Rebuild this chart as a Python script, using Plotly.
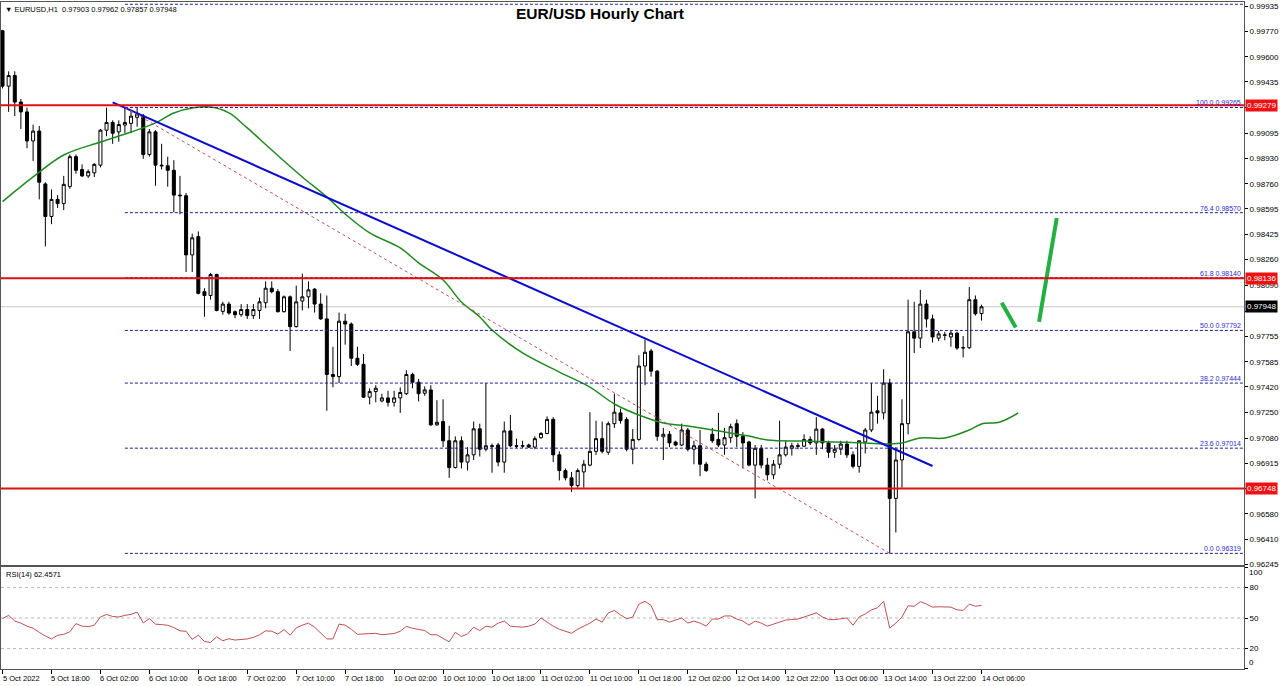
import plotly.graph_objects as go

# ---------------- data ----------------
tick_labels = ["5 Oct 2022", "5 Oct 18:00", "6 Oct 02:00", "6 Oct 10:00", "6 Oct 18:00",
               "7 Oct 02:00", "7 Oct 10:00", "7 Oct 18:00", "10 Oct 02:00", "10 Oct 10:00",
               "10 Oct 18:00", "11 Oct 02:00", "11 Oct 10:00", "11 Oct 18:00", "12 Oct 02:00",
               "12 Oct 14:00", "12 Oct 22:00", "13 Oct 06:00", "13 Oct 14:00", "13 Oct 22:00",
               "14 Oct 06:00"]
tick_bars = [0, 8, 16, 24, 32, 40, 48, 56, 64, 72, 80, 88, 96, 104, 112, 120, 128, 136, 144, 152, 160]

opens = [0.99772, 0.99406, 0.99476, 0.99301, 0.99236, 0.99044, 0.99109, 0.98760, 0.98545, 0.98658,
         0.98630, 0.98742, 0.98940, 0.98855, 0.98813, 0.98833, 0.98884, 0.99115, 0.99166, 0.99104,
         0.99149, 0.99160, 0.99200, 0.99208, 0.98954, 0.99104, 0.98884, 0.98880, 0.98850, 0.98686,
         0.98682, 0.98291, 0.98412, 0.98048, 0.98023, 0.98161, 0.97918, 0.97966, 0.97916, 0.97896,
         0.97930, 0.97890, 0.97924, 0.97975, 0.98071, 0.98048, 0.97916, 0.98014, 0.97817, 0.97986,
         0.98014, 0.98065, 0.97966, 0.97868, 0.97501, 0.97487, 0.97853, 0.97834, 0.97608, 0.97568,
         0.97351, 0.97388, 0.97326, 0.97346, 0.97317, 0.97346, 0.97374, 0.97501, 0.97450, 0.97377,
         0.97399, 0.97168, 0.97190, 0.97063, 0.96886, 0.97063, 0.96922, 0.96970, 0.97142, 0.97007,
         0.97030, 0.97035, 0.96922, 0.97128, 0.97030, 0.97027, 0.97035, 0.97021, 0.97083, 0.97111,
         0.97204, 0.96970, 0.96866, 0.96818, 0.96767, 0.96857, 0.96902, 0.96993, 0.97077, 0.96987,
         0.97176, 0.97247, 0.97204, 0.97007, 0.97072, 0.97557, 0.97656, 0.97523, 0.97089, 0.97106,
         0.97055, 0.97035, 0.97134, 0.97007, 0.97030, 0.96908, 0.97106, 0.97072, 0.97035, 0.97083,
         0.97176, 0.97092, 0.97055, 0.96902, 0.97013, 0.96902, 0.96838, 0.96908, 0.96970, 0.97013,
         0.97030, 0.97027, 0.97072, 0.97049, 0.97140, 0.97049, 0.96987, 0.97007, 0.97041, 0.96970,
         0.96894, 0.97055, 0.97134, 0.97261, 0.97247, 0.97444, 0.96682, 0.96936, 0.97176, 0.97783,
         0.97741, 0.97966, 0.97868, 0.97741, 0.97760, 0.97749, 0.97774, 0.97676, 0.97678, 0.97995,
         0.97903]
highs = [0.99778, 0.99504, 0.99504, 0.99321, 0.99264, 0.99152, 0.99143, 0.98771, 0.98723, 0.98686,
         0.98813, 0.98954, 0.98954, 0.98889, 0.98855, 0.98898, 0.99123, 0.99264, 0.99180, 0.99180,
         0.99265, 0.99250, 0.99264, 0.99222, 0.99123, 0.99115, 0.99025, 0.98940, 0.98917, 0.98813,
         0.98700, 0.98432, 0.98446, 0.98071, 0.98172, 0.98167, 0.97981, 0.97981, 0.97924, 0.97966,
         0.97966, 0.97966, 0.98009, 0.98116, 0.98116, 0.98065, 0.98023, 0.98023, 0.98088, 0.98167,
         0.98116, 0.98071, 0.98037, 0.98023, 0.97684, 0.97910, 0.97902, 0.97845, 0.97684, 0.97636,
         0.97410, 0.97430, 0.97374, 0.97393, 0.97393, 0.97416, 0.97529, 0.97512, 0.97472, 0.97422,
         0.97430, 0.97331, 0.97337, 0.97162, 0.97092, 0.97092, 0.97021, 0.97190, 0.97176, 0.97444,
         0.97044, 0.97049, 0.97190, 0.97233, 0.97077, 0.97063, 0.97044, 0.97092, 0.97120, 0.97224,
         0.97219, 0.96993, 0.96880, 0.96857, 0.96880, 0.96936, 0.97252, 0.97196, 0.97190, 0.97190,
         0.97374, 0.97275, 0.97219, 0.97140, 0.97628, 0.97732, 0.97670, 0.97529, 0.97148, 0.97128,
         0.97063, 0.97176, 0.97148, 0.97063, 0.97134, 0.96922, 0.97148, 0.97247, 0.97148, 0.97176,
         0.97204, 0.97120, 0.97063, 0.97035, 0.97035, 0.96950, 0.96936, 0.97196, 0.97063, 0.97049,
         0.97049, 0.97106, 0.97092, 0.97219, 0.97148, 0.97063, 0.97035, 0.97063, 0.97063, 0.96993,
         0.97063, 0.97148, 0.97444, 0.97360, 0.97535, 0.97472, 0.97021, 0.97337, 0.97995, 0.97981,
         0.98060, 0.97995, 0.97896, 0.97789, 0.97783, 0.97789, 0.97783, 0.97755, 0.98079, 0.98023,
         0.97962]
lows = [0.99391, 0.99236, 0.99208, 0.99123, 0.98996, 0.98912, 0.98658, 0.98347, 0.98494, 0.98601,
        0.98587, 0.98728, 0.98827, 0.98805, 0.98799, 0.98805, 0.98869, 0.99075, 0.99025, 0.99039,
        0.99095, 0.99095, 0.99138, 0.98926, 0.98940, 0.98748, 0.98855, 0.98742, 0.98573, 0.98559,
        0.98178, 0.98178, 0.98030, 0.97882, 0.97995, 0.97918, 0.97896, 0.97896, 0.97873, 0.97882,
        0.97868, 0.97868, 0.97868, 0.97938, 0.98037, 0.97910, 0.97910, 0.97656, 0.97811, 0.97924,
        0.97938, 0.97910, 0.97862, 0.97261, 0.97416, 0.97444, 0.97698, 0.97557, 0.97557, 0.97346,
        0.97303, 0.97317, 0.97317, 0.97289, 0.97289, 0.97247, 0.97365, 0.97410, 0.97323, 0.97360,
        0.97162, 0.97162, 0.97021, 0.96818, 0.96880, 0.96880, 0.96866, 0.96936, 0.96959, 0.96993,
        0.96852, 0.96894, 0.96852, 0.97021, 0.97015, 0.97015, 0.97015, 0.97007, 0.97077, 0.97106,
        0.96922, 0.96801, 0.96801, 0.96725, 0.96753, 0.96753, 0.96894, 0.96970, 0.96979, 0.96970,
        0.97148, 0.97176, 0.96993, 0.96908, 0.97063, 0.97430, 0.97487, 0.97063, 0.96936, 0.97021,
        0.97027, 0.97027, 0.96993, 0.96908, 0.96829, 0.96857, 0.97049, 0.97021, 0.96970, 0.97049,
        0.97021, 0.96880, 0.96894, 0.96682, 0.96880, 0.96801, 0.96809, 0.96880, 0.96959, 0.96965,
        0.97007, 0.97021, 0.97035, 0.96970, 0.97007, 0.96950, 0.96950, 0.96970, 0.96950, 0.96880,
        0.96852, 0.96979, 0.97120, 0.97176, 0.97204, 0.96319, 0.96457, 0.96753, 0.97106, 0.97642,
        0.97676, 0.97811, 0.97712, 0.97721, 0.97727, 0.97684, 0.97664, 0.97614, 0.97670, 0.97890,
        0.97857]
closes = [0.99406, 0.99476, 0.99301, 0.99236, 0.99044, 0.99109, 0.98771, 0.98545, 0.98658, 0.98630,
          0.98757, 0.98940, 0.98850, 0.98813, 0.98841, 0.98889, 0.99115, 0.99166, 0.99095, 0.99152,
          0.99166, 0.99208, 0.99222, 0.98954, 0.99104, 0.98884, 0.98880, 0.98850, 0.98686, 0.98682,
          0.98291, 0.98404, 0.98037, 0.98023, 0.98161, 0.97924, 0.97966, 0.97907, 0.97896, 0.97930,
          0.97890, 0.97930, 0.97981, 0.98071, 0.98048, 0.97916, 0.98014, 0.97817, 0.97981, 0.98014,
          0.98060, 0.97966, 0.97868, 0.97501, 0.97487, 0.97853, 0.97834, 0.97608, 0.97568, 0.97351,
          0.97388, 0.97410, 0.97346, 0.97317, 0.97346, 0.97382, 0.97501, 0.97450, 0.97374, 0.97399,
          0.97168, 0.97185, 0.97063, 0.96886, 0.97063, 0.96922, 0.96970, 0.97142, 0.97007, 0.97030,
          0.97027, 0.96922, 0.97128, 0.97030, 0.97027, 0.97030, 0.97021, 0.97077, 0.97111, 0.97204,
          0.96970, 0.96866, 0.96818, 0.96767, 0.96866, 0.96908, 0.96993, 0.97077, 0.96993, 0.97176,
          0.97252, 0.97196, 0.97007, 0.97072, 0.97557, 0.97648, 0.97523, 0.97092, 0.97106, 0.97049,
          0.97035, 0.97134, 0.97007, 0.97030, 0.96908, 0.96866, 0.97063, 0.97035, 0.97083, 0.97156,
          0.97092, 0.97049, 0.96902, 0.97013, 0.96902, 0.96838, 0.96908, 0.96970, 0.97021, 0.97030,
          0.97027, 0.97072, 0.97049, 0.97140, 0.97049, 0.96987, 0.97007, 0.97041, 0.96970, 0.96894,
          0.97063, 0.97134, 0.97252, 0.97247, 0.97444, 0.96682, 0.96936, 0.97176, 0.97783, 0.97741,
          0.97966, 0.97868, 0.97749, 0.97769, 0.97762, 0.97774, 0.97676, 0.97678, 0.97995, 0.97902,
          0.97948]

rsi_values = [49.5, 52.6, 47, 45, 42, 40, 36, 32.3, 29.5, 33, 34, 36.5, 44.5, 42, 41.5, 43, 51, 53.5,
              51.5, 51, 52.6, 53.5, 55.8, 45.2, 49.4, 44, 43.5, 42.9, 40.6, 37.4, 37, 29, 33.2, 27,
              26.1, 31.6, 27.7, 29.7, 28.4, 29, 29.5, 31, 33.5, 37.4, 37, 34.2, 38.7, 33.2, 40.3, 43,
              45, 41, 35, 29.5, 29.5, 44, 43, 39, 34, 34.5, 34.5, 35, 33.6, 34, 34.8, 37, 41.8, 40,
              38.9, 37.7, 33.6, 33.6, 30, 26.6, 36, 31.9, 34.4, 41, 37.7, 42, 41, 45, 47, 42, 41.5,
              41, 42, 44, 50, 46, 42, 39, 37, 35, 39, 42, 45, 49, 46, 55, 57.4, 53, 49.2, 51, 63.6,
              66.4, 62.3, 48.4, 48.4, 46, 48, 50, 45, 47, 45, 42, 49, 49, 52, 52, 49, 47, 43, 47, 45,
              42, 44, 46, 48, 48.5, 49, 51, 53, 55, 51, 48.5, 48.4, 49, 50, 43, 51, 54, 58, 60, 66.4,
              40.1, 45, 51, 62, 61.5, 66, 63.6, 60.7, 61, 61, 60.7, 58, 57.4, 63.6, 61.5, 62.4571]

# moving average (bar index, value)
ma_bars = [0, 5, 10, 16, 21, 25, 28, 31, 34, 37, 40, 44, 49, 53, 56, 60, 65, 68, 72, 75, 78, 80,
           85, 91, 96, 100, 104, 108, 112, 118, 122, 125, 131, 136, 141, 145, 147, 150, 154, 158,
           160, 163, 166]
ma_values = [0.98643, 0.98806, 0.98951, 0.99037, 0.99103, 0.99163, 0.99229, 0.99262, 0.99268,
             0.99229, 0.99130, 0.98984, 0.98806, 0.98674, 0.98561, 0.98436, 0.98337, 0.98238,
             0.98125, 0.97980, 0.97881, 0.97795, 0.97643, 0.97517, 0.97418, 0.97306, 0.97233,
             0.97180, 0.97160, 0.97121, 0.97094, 0.97068, 0.97061, 0.97055, 0.97048, 0.97042,
             0.97048, 0.97081, 0.97081, 0.97134, 0.97174, 0.97187, 0.97247]

red_levels = [0.99279, 0.98136, 0.96748]
fib_pcts = ["100.0", "76.4", "61.8", "50.0", "38.2", "23.6", "0.0"]
fib_prices = [0.99265, 0.98570, 0.98140, 0.97792, 0.97444, 0.97014, 0.96319]
fib_anchor_bars = [20, 145]
fib_anchor_prices = [0.99265, 0.96319]
trend_bars = [18, 152]
trend_prices = [0.99299, 0.96896]
arrow_down_bars = [163.3, 165.6]
arrow_down_prices = [0.97975, 0.97812]
arrow_up_bars = [169.4, 172.3]
arrow_up_prices = [0.97848, 0.98535]
last_price = 0.97948
header_values = ["0.97903", "0.97962", "0.97857", "0.97948"]

price_ticks = [0.99935, 0.99770, 0.99600, 0.99435, 0.99265, 0.99095, 0.98930, 0.98760, 0.98595,
               0.98425, 0.98260, 0.98090, 0.97920, 0.97755, 0.97585, 0.97420, 0.97250, 0.97080,
               0.96915, 0.96745, 0.96580, 0.96410, 0.96245]
covered_ticks = [0.99265, 0.97920, 0.96745]   # hidden behind the price boxes in the reference
rsi_ticks = [0, 20, 50, 80, 100]
rsi_levels = [20, 50, 80]

# ---------------- figure ----------------
FONT = "Liberation Sans"
bars = list(range(len(opens)))
x_lo, x_hi = -0.25, 202.9
main_dom = [0.1559, 1.0]
rsi_dom = [0.0, 0.1529]
axis_col = "#555555"

fig = go.Figure()

fig.add_trace(go.Candlestick(
    x=bars, open=opens, high=highs, low=lows, close=closes,
    increasing=dict(line=dict(color="black", width=1), fillcolor="white"),
    decreasing=dict(line=dict(color="black", width=1), fillcolor="black"),
    whiskerwidth=0, showlegend=False, hoverinfo="skip", xaxis="x", yaxis="y"))

fig.add_trace(go.Scatter(x=ma_bars, y=ma_values, mode="lines",
                         line=dict(color="#1f8a1f", width=1.5, shape="spline"),
                         showlegend=False, hoverinfo="skip", xaxis="x", yaxis="y"))

fig.add_trace(go.Scatter(x=trend_bars, y=trend_prices, mode="lines",
                         line=dict(color="#0a0ad0", width=2),
                         showlegend=False, hoverinfo="skip", xaxis="x", yaxis="y"))

fig.add_trace(go.Scatter(x=fib_anchor_bars, y=fib_anchor_prices, mode="lines",
                         line=dict(color="#c85050", width=1, dash="3px,3px"),
                         showlegend=False, hoverinfo="skip", xaxis="x", yaxis="y"))

for bx, py in [(arrow_down_bars, arrow_down_prices), (arrow_up_bars, arrow_up_prices)]:
    fig.add_trace(go.Scatter(x=bx, y=py, mode="lines",
                             line=dict(color="#23b043", width=4),
                             showlegend=False, hoverinfo="skip", xaxis="x", yaxis="y"))

fig.add_trace(go.Scatter(x=bars, y=rsi_values, mode="lines",
                         line=dict(color="#c05050", width=1),
                         showlegend=False, hoverinfo="skip", xaxis="x2", yaxis="y2"))

shapes = []
# current price line
shapes.append(dict(type="line", xref="x domain", yref="y", x0=0, x1=1, y0=last_price, y1=last_price,
                   line=dict(color="#c8c8c8", width=1), layer="below"))
# fib levels
for p in fib_prices:
    shapes.append(dict(type="line", xref="x", yref="y", x0=fib_anchor_bars[0], x1=x_hi, y0=p, y1=p,
                       line=dict(color="#202090", width=1, dash="3px,2px")))
# top dotted line
shapes.append(dict(type="line", xref="x", yref="y domain", x0=fib_anchor_bars[0], x1=x_hi,
                   y0=0.996, y1=0.996, line=dict(color="#202090", width=1, dash="3px,2px")))
# red support / resistance lines
for p in red_levels:
    shapes.append(dict(type="line", xref="x domain", yref="y", x0=0, x1=1, y0=p, y1=p,
                       line=dict(color="#e01010", width=2)))
# rsi levels
for v in rsi_levels:
    shapes.append(dict(type="line", xref="x2 domain", yref="y2", x0=0, x1=1, y0=v, y1=v,
                       line=dict(color="#b8b8b8", width=1, dash="3px,3px"), layer="below"))

annotations = []
annotations.append(dict(xref="paper", yref="paper", x=0.4819, y=1.0, yshift=-1,
                        xanchor="center", yanchor="top", showarrow=False,
                        text="<b>EUR/USD Hourly Chart</b>",
                        font=dict(family=FONT, size=15.5, color="black")))
annotations.append(dict(xref="paper", yref="paper", x=0, y=1.0, xshift=2, yshift=-1,
                        xanchor="left", yanchor="top", showarrow=False,
                        text="▼ EURUSD,H1&nbsp;&nbsp;" + " ".join(header_values),
                        font=dict(family=FONT, size=7.5, color="black")))
annotations.append(dict(xref="paper", yref="paper", x=0, y=rsi_dom[1], xshift=3, yshift=-1,
                        xanchor="left", yanchor="top", showarrow=False,
                        text="RSI(14) %.4f" % rsi_values[-1],
                        font=dict(family=FONT, size=7.5, color="black")))
for pct, p in zip(fib_pcts, fib_prices):
    annotations.append(dict(xref="x domain", yref="y", x=1, y=p, xshift=-1, yshift=-1,
                            xanchor="right", yanchor="bottom", showarrow=False,
                            text="%s %.5f" % (pct, p),
                            font=dict(family=FONT, size=7, color="#2a2ad0")))
for p in red_levels:
    annotations.append(dict(xref="paper", yref="y", x=1, y=p, xshift=1, xanchor="left",
                            yanchor="middle", showarrow=False, text="%.5f" % p,
                            bgcolor="#ee1111", borderpad=1,
                            font=dict(family=FONT, size=8, color="white")))
annotations.append(dict(xref="paper", yref="y", x=1, y=last_price, xshift=1, xanchor="left",
                        yanchor="middle", showarrow=False, text="%.5f" % last_price,
                        bgcolor="black", borderpad=1,
                        font=dict(family=FONT, size=8, color="white")))
# rsi edge labels (kept inside the panel as in the reference)
annotations.append(dict(xref="paper", yref="paper", x=1, y=rsi_dom[1], xshift=3, yshift=1,
                        xanchor="left", yanchor="top", showarrow=False, text=str(rsi_ticks[-1]),
                        font=dict(family=FONT, size=8, color="black")))
annotations.append(dict(xref="paper", yref="paper", x=1, y=rsi_dom[0], xshift=3, yshift=0,
                        xanchor="left", yanchor="bottom", showarrow=False, text=str(rsi_ticks[0]),
                        font=dict(family=FONT, size=8, color="black")))
for b, lab in zip(tick_bars, tick_labels):
    annotations.append(dict(xref="x2", yref="paper", x=b, y=0, yshift=-3, xshift=-2,
                            xanchor="left", yanchor="top", showarrow=False, text=lab,
                            font=dict(family=FONT, size=7.5, color="black")))

fig.update_layout(
    width=1280, height=686,
    margin=dict(l=1, r=36, t=2, b=17, autoexpand=False),
    paper_bgcolor="white", plot_bgcolor="white",
    showlegend=False, hovermode=False,
    shapes=shapes, annotations=annotations,
    xaxis=dict(domain=[0, 1], range=[x_lo, x_hi], anchor="y", showgrid=False, zeroline=False,
               showticklabels=False, showline=True, mirror=True, linecolor=axis_col, linewidth=1,
               rangeslider=dict(visible=False)),
    xaxis2=dict(domain=[0, 1], range=[x_lo, x_hi], anchor="y2", matches="x", showgrid=False,
                zeroline=False, showline=True, mirror=True, linecolor=axis_col, linewidth=1,
                tickmode="array", tickvals=tick_bars, ticktext=[""] * len(tick_bars),
                ticks="outside", ticklen=4, tickcolor="black"),
    yaxis=dict(domain=main_dom, range=[0.96242, 0.99962], side="right", anchor="x",
               showgrid=False, zeroline=False, showline=True, mirror=True, linecolor=axis_col,
               linewidth=1, tickmode="array", tickvals=price_ticks,
               ticktext=["" if v in covered_ticks else "%.5f" % v for v in price_ticks],
               ticks="outside", ticklen=3,
               tickcolor="black", tickfont=dict(family=FONT, size=8, color="black")),
    yaxis2=dict(domain=rsi_dom, range=[0, 100], side="right", anchor="x2",
                showgrid=False, zeroline=False, showline=True, mirror=True, linecolor=axis_col,
                linewidth=1, tickmode="array", tickvals=rsi_ticks,
                ticktext=["" if v in (0, 100) else str(v) for v in rsi_ticks],
                ticks="outside", ticklen=3,
                tickcolor="black", tickfont=dict(family=FONT, size=8, color="black")),
)

fig.write_html("out.html", config={"displayModeBar": False},
               post_script="document.body.style.margin='0px';document.body.style.overflow='hidden';")
